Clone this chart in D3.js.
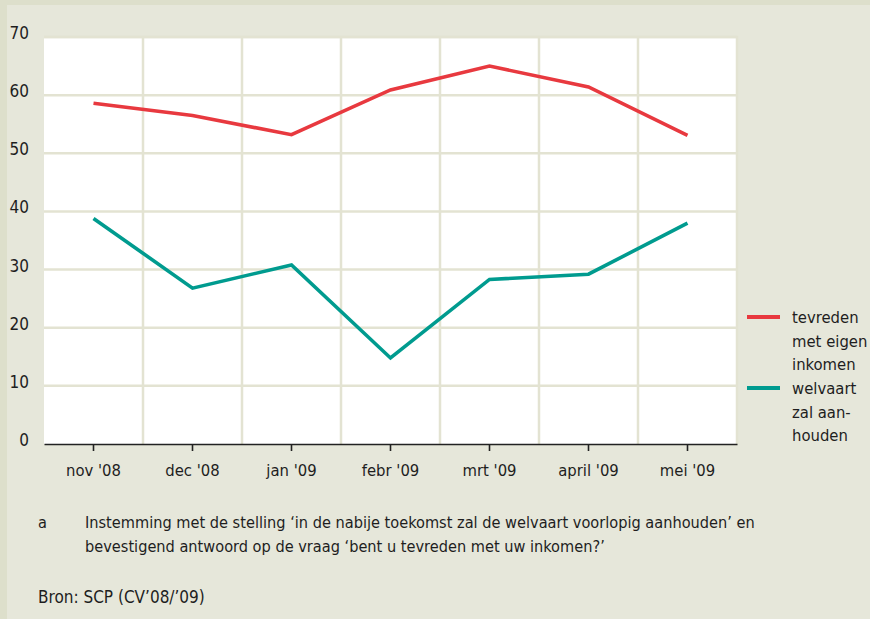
<!DOCTYPE html>
<html>
<head>
<meta charset="utf-8">
<script src="https://cdn.jsdelivr.net/npm/d3@7"></script>
<style>
  html, body { margin: 0; padding: 0; background: #e6e7da; }
  svg text { font-family: "Liberation Sans Narrow", "DejaVu Sans Condensed", sans-serif; fill: #1e1e1e; }
</style>
</head>
<body>
<svg width="870" height="619"></svg>
<script>
// maanden en waarden (in %)
const months = ["nov '08", "dec '08", "jan '09", "febr '09", "mrt '09", "april '09", "mei '09"];
const tevreden = [58.6, 56.5, 53.2, 60.9, 65.0, 61.4, 53.1];
const welvaart = [38.8, 26.8, 30.8, 14.8, 28.3, 29.2, 38.0];
const yTicks = [0, 10, 20, 30, 40, 50, 60, 70];
const legendItems = [
    {color: "#e8393f", lines: ["tevreden", "met eigen", "inkomen"]},
    {color: "#009b8f", lines: ["welvaart", "zal aan-", "houden"]}
];
const series = [
    {values: tevreden, color: legendItems[0].color},
    {values: welvaart, color: legendItems[1].color}
];

const svg = d3.select("svg");
const width = +svg.attr("width");
const height = +svg.attr("height");

// achtergrond met donkere rand links en boven
svg.append("rect").attr("width", width).attr("height", height).attr("fill", "#dddfcb");
svg.append("rect").attr("x", 7).attr("y", 5).attr("width", width - 7).attr("height", height - 5).attr("fill", "#e6e7da");

const plotLeft = 44, plotRight = 737, plotTop = 37, plotBottom = 444;

const x = d3.scaleBand().domain(months).range([plotLeft, plotRight]);
const y = d3.scaleLinear().domain([0, 70]).range([plotBottom, plotTop]);

// plotvlak
svg.append("rect")
    .attr("x", plotLeft).attr("y", plotTop)
    .attr("width", plotRight - plotLeft).attr("height", plotBottom - plotTop)
    .attr("fill", "#ffffff");

// rasterlijnen
svg.append("g").selectAll("line")
    .data(yTicks.filter(d => d > 0))
    .join("line")
    .attr("x1", plotLeft).attr("x2", plotRight)
    .attr("y1", d => y(d)).attr("y2", d => y(d))
    .attr("stroke", "#e3e3d2").attr("stroke-width", 2.5);

svg.append("g").selectAll("line")
    .data(months.slice(1))
    .join("line")
    .attr("x1", d => x(d)).attr("x2", d => x(d))
    .attr("y1", plotTop).attr("y2", plotBottom)
    .attr("stroke", "#e3e3d2").attr("stroke-width", 2.5);

// rand van het plotvlak (boven en rechts)
svg.append("path")
    .attr("d", `M${plotLeft},${plotTop}H${plotRight}V${plotBottom}`)
    .attr("fill", "none").attr("stroke", "#e3e3d2").attr("stroke-width", 2.5);

// y-as labels
svg.append("g").selectAll("text")
    .data(yTicks)
    .join("text")
    .attr("x", 29)
    .attr("y", d => y(d) + 2)
    .attr("text-anchor", "end")
    .attr("font-size", 17)
    .text(d => d);

// x-as
const xAxis = svg.append("g")
    .attr("transform", `translate(0,${plotBottom})`)
    .call(d3.axisBottom(x).tickSize(7).tickSizeOuter(0).tickPadding(13));
xAxis.select(".domain").attr("stroke", "#222").attr("stroke-width", 1.6);
xAxis.selectAll(".tick line").attr("stroke", "#222").attr("stroke-width", 1.6);
xAxis.selectAll(".tick text")
    .attr("font-size", 16.5)
    .attr("font-family", "'Liberation Sans Narrow', 'DejaVu Sans Condensed', sans-serif")
    .attr("fill", "#1e1e1e");

// lijnen
const line = d3.line()
    .x((d, i) => x(months[i]) + x.bandwidth() / 2)
    .y(d => y(d));

svg.append("g").selectAll("path")
    .data(series)
    .join("path")
    .attr("d", d => line(d.values))
    .attr("fill", "none")
    .attr("stroke", d => d.color)
    .attr("stroke-width", 3.6)
    .attr("stroke-linejoin", "miter");

// legenda
const legend = svg.append("g");
legendItems.forEach((item, i) => {
    const y0 = 317 + i * 71;
    legend.append("line")
        .attr("x1", 747).attr("x2", 780)
        .attr("y1", y0).attr("y2", y0)
        .attr("stroke", item.color).attr("stroke-width", 4);
    legend.append("g").selectAll("text")
        .data(item.lines)
        .join("text")
        .attr("x", 792)
        .attr("y", (d, j) => y0 + 6 + j * 23.5)
        .attr("font-size", 16.5)
        .text(d => d);
});

// voetnoot en bron
const notes = svg.append("g").attr("font-size", 16.2);
notes.append("text").attr("x", 38).attr("y", 528).text("a");
notes.append("text").attr("x", 85).attr("y", 528)
    .text("Instemming met de stelling \u2018in de nabije toekomst zal de welvaart voorlopig aanhouden\u2019 en");
notes.append("text").attr("x", 85).attr("y", 552)
    .text("bevestigend antwoord op de vraag \u2018bent u tevreden met uw inkomen?\u2019");
notes.append("text").attr("x", 38).attr("y", 603).attr("font-size", 17).text("Bron: SCP (CV\u201908/\u201909)");
</script>
</body>
</html>
